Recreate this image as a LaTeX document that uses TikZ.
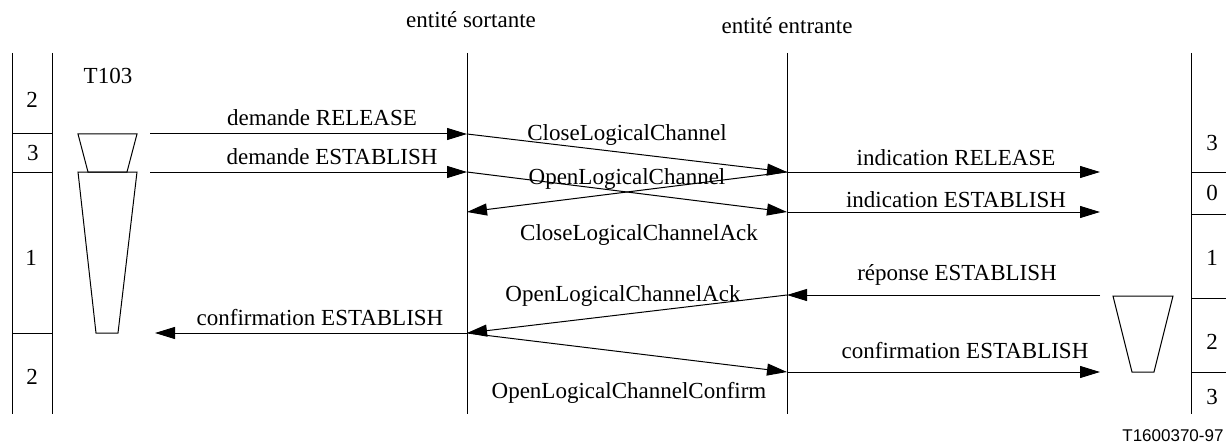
\documentclass[tikz,border=0pt]{standalone}
\usepackage{fontspec}
\setmainfont{Liberation Serif}
\setsansfont{Liberation Sans}
\usetikzlibrary{arrows.meta}

\begin{document}
\begin{tikzpicture}[
  x=0.5pt, y=-0.5pt, >={Triangle[length=10pt,width=6pt]}, line width=0.5pt,
  msg/.style={->},
  lbl/.style={inner sep=0pt, font=\fontsize{11.5}{13}\selectfont},
  timer/.style={draw, line width=0.5pt}
]
\useasboundingbox (0,0) rectangle (1226,444);

\node[lbl] (sortante) at (471,20) {entité sortante};
\node[lbl] (entrante) at (787,26) {entité entrante};

\draw (467,53) -- (467,414);
\draw (787,53) -- (787,414);

\draw (12,53) -- (12,414);
\draw (52,53) -- (52,414);
\foreach \y in {134,172,333} \draw (12,\y) -- (52,\y);
\node[lbl] (l2a) at (32,100) {2};
\node[lbl] (l3) at (33,153) {3};
\node[lbl] (l1) at (31,258) {1};
\node[lbl] (l2b) at (32,377) {2};

\draw (1191,53) -- (1191,414);
\foreach \y in {172,214,298,372} \draw (1191,\y) -- (1226,\y);
\node[lbl] (r3a) at (1212,143) {3};
\node[lbl] (r0) at (1212,193) {0};
\node[lbl] (r1) at (1212,258) {1};
\node[lbl] (r2) at (1212,342) {2};
\node[lbl] (r3b) at (1212,397) {3};

\node[lbl] (t103) at (108,76) {T103};
\draw[timer] (78,134) -- (137,134) -- (127,172) -- (88,172) -- cycle;
\draw[timer] (78,172) -- (137,172) -- (118,333) -- (96,333) -- cycle;
\draw[timer] (1113,296) -- (1173,296) -- (1154,372) -- (1132,372) -- cycle;

\coordinate (uRel) at (150,134);
\coordinate (uEst) at (150,172);
\coordinate (uConf) at (155,333);
\coordinate (sRel) at (467,134);
\coordinate (sEst) at (467,172);
\coordinate (sAck) at (467,212);
\coordinate (sConf) at (467,333);
\coordinate (eRel) at (787,172);
\coordinate (eEst) at (787,212);
\coordinate (eRep) at (787,295);
\coordinate (eConf) at (787,372);
\coordinate (vRel) at (1100,172);
\coordinate (vEst) at (1100,212);
\coordinate (vRep) at (1100,295);
\coordinate (vConf) at (1100,372);

\draw[msg] (uRel) -- (sRel);
\draw[msg] (uEst) -- (sEst);
\draw[msg] (sRel) -- (eRel);
\draw[msg] (sEst) -- (eEst);
\draw[msg] (eRel) -- (sAck);
\draw[msg] (eRel) -- (vRel);
\draw[msg] (eEst) -- (vEst);
\draw[msg] (vRep) -- (eRep);
\draw[msg] (eRep) -- (sConf);
\draw[msg] (sConf) -- (uConf);
\draw[msg] (sConf) -- (eConf);
\draw[msg] (eConf) -- (vConf);

\node[lbl] (dRel) at (322,118) {demande RELEASE};
\node[lbl] (dEst) at (332,157) {demande ESTABLISH};
\node[lbl] (close) at (627,135) {CloseLogicalChannel};
\node[lbl] (open) at (627,179) {OpenLogicalChannel};
\node[lbl] (closeAck) at (639,235) {CloseLogicalChannelAck};
\node[lbl] (iRel) at (956,158) {indication RELEASE};
\node[lbl] (iEst) at (956,200) {indication ESTABLISH};
\node[lbl] (rEst) at (957,275) {réponse ESTABLISH};
\node[lbl] (openAck) at (623,296) {OpenLogicalChannelAck};
\node[lbl] (cEstL) at (320,318) {confirmation ESTABLISH};
\node[lbl] (openConf) at (629,393) {OpenLogicalChannelConfirm};
\node[lbl] (cEstR) at (965,351) {confirmation ESTABLISH};

\node[font=\fontsize{8.5}{10}\selectfont\sffamily, inner sep=0pt, anchor=east] (ref) at (1224,436) {T1600370-97};

\end{tikzpicture}
\end{document}
